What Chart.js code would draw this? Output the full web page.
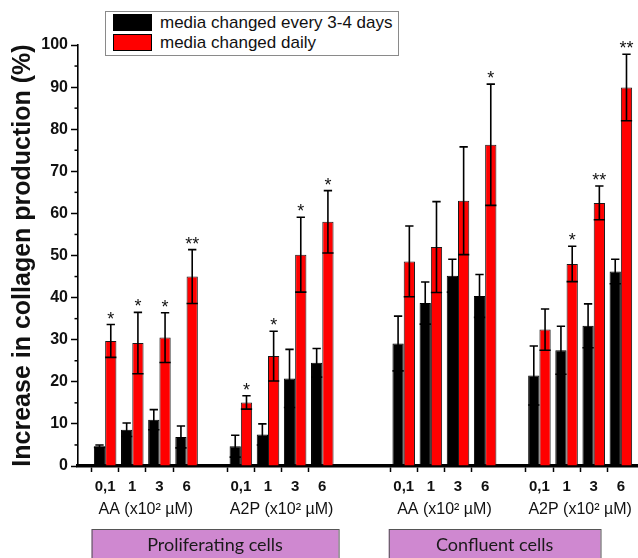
<!DOCTYPE html>
<html>
<head>
<meta charset="utf-8">
<script src="https://cdn.jsdelivr.net/npm/chart.js@4.4.1/dist/chart.umd.min.js"></script>
<style>
  html, body { margin: 0; padding: 0; background: #fff; }
  #clip { position: relative; width: 638px; height: 558px; overflow: hidden; }
  #wrap { position: absolute; left: 0; top: 0; width: 654px; height: 558px; }
  #legend {
    position: absolute; left: 105px; top: 11px; width: 292px; height: 43px;
    border: 1px solid #8a8a8a; background: #fff; font: 17px "Liberation Sans", Arial, sans-serif; color: #111;
  }
  #legend div { position: absolute; left: 7px; height: 20px; line-height: 20px; white-space: nowrap; }
  #legend span { display: inline-block; width: 37px; height: 15px; border: 1px solid #000; vertical-align: -3px; margin-right: 8px; }
</style>
</head>
<body>
<div id="clip">
  <div id="wrap"><canvas id="chart"></canvas></div>
  <div id="legend">
    <div style="top:1px"><span style="background:#000"></span>media changed every 3-4 days</div>
    <div style="top:21px"><span style="background:#ff0000"></span>media changed daily</div>
  </div>
</div>
<script>
// doses per group, group captions, cell states
var doses = ['0,1', '1', '3', '6'];
var groups = ['AA (x10\u00b2 \u00b5M)', 'A2P (x10\u00b2 \u00b5M)', 'AA (x10\u00b2 \u00b5M)', 'A2P (x10\u00b2 \u00b5M)'];
var cellStates = ['Proliferating cells', 'Confluent cells'];

// values (16 = 4 groups x 4 doses)
var every34    = [4.7, 8.6, 11.0, 6.9,   4.7, 7.5, 20.8, 24.5,   29.1, 38.7, 45.2, 40.4,   21.5, 27.5, 33.3, 46.2];
var every34Err = [0.3, 1.6, 2.4, 2.6,    2.6, 2.5, 6.9, 3.4,     6.5, 5.0, 3.9, 5.1,       7.0, 5.7, 5.2, 2.9];
var daily      = [29.7, 29.2, 30.5, 45.0, 15.1, 26.1, 50.2, 58.0, 48.6, 52.0, 63.0, 76.3,  32.4, 48.0, 62.5, 89.9];
var dailyErr   = [3.9, 7.3, 5.9, 6.4,    1.6, 5.9, 8.9, 7.4,     8.4, 10.8, 12.8, 14.4,    4.9, 4.2, 4.0, 7.9];
var stars      = ['*', '*', '*', '**',   '*', '*', '*', '*',     '', '', '', '*',          '', '*', '**', '**'];

var yTicks = [0, 10, 20, 30, 40, 50, 60, 70, 80, 90, 100];

// build category slots: empty slots separate the groups
var gapsBefore = [1, 1, 2, 1];
var labels = [], slot34 = [], slotDaily = [], slotItem = [], groupSlots = [];
groups.forEach(function (g, gi) {
  for (var k = 0; k < gapsBefore[gi]; k++) { labels.push(''); slot34.push(null); slotDaily.push(null); slotItem.push(-1); }
  var first = labels.length;
  doses.forEach(function (d, di) {
    var i = gi * doses.length + di;
    labels.push(d); slot34.push(every34[i]); slotDaily.push(daily[i]); slotItem.push(i);
  });
  groupSlots.push([first, labels.length - 1]);
});
labels.push(''); slot34.push(null); slotDaily.push(null); slotItem.push(-1);

var errors = [every34Err, dailyErr];

var errorBars = {
  id: 'errorBars',
  afterDatasetsDraw: function (chart) {
    var ctx = chart.ctx, y = chart.scales.y;
    ctx.save();
    ctx.strokeStyle = '#000';
    ctx.lineWidth = 1.6;
    chart.data.datasets.forEach(function (ds, di) {
      var meta = chart.getDatasetMeta(di);
      meta.data.forEach(function (bar, si) {
        var item = slotItem[si];
        if (item < 0) return;
        var v = ds.data[si], e = errors[di][item];
        var top = y.getPixelForValue(v + e), bot = y.getPixelForValue(v - e);
        var hw = bar.width * 0.37, bw = bar.width * 0.5;
        ctx.beginPath();
        ctx.moveTo(bar.x, top); ctx.lineTo(bar.x, bot);
        ctx.moveTo(bar.x - hw, top); ctx.lineTo(bar.x + hw, top);
        ctx.moveTo(bar.x - bw, bot); ctx.lineTo(bar.x + bw, bot);
        ctx.stroke();
        if (di === 1 && stars[item]) {
          ctx.fillStyle = '#111';
          ctx.font = '18px "Liberation Sans", Arial, sans-serif';
          ctx.textAlign = 'center';
          ctx.textBaseline = 'alphabetic';
          ctx.fillText(stars[item], bar.x, top + 0);
        }
      });
    });
    ctx.restore();
  }
};

var decorations = {
  id: 'decorations',
  afterDraw: function (chart) {
    var ctx = chart.ctx, x = chart.scales.x, y = chart.scales.y;
    ctx.save();
    // minor ticks on the y axis
    ctx.strokeStyle = '#000';
    ctx.lineWidth = 1.5;
    for (var v = 5; v < 100; v += 10) {
      var py = y.getPixelForValue(v);
      ctx.beginPath(); ctx.moveTo(y.right - 3.5, py); ctx.lineTo(y.right, py); ctx.stroke();
    }
    // group captions
    ctx.fillStyle = '#111';
    ctx.font = '16px "Liberation Sans", Arial, sans-serif';
    ctx.textAlign = 'center';
    ctx.textBaseline = 'middle';
    groupSlots.forEach(function (s, gi) {
      var cx = (x.getPixelForValue(s[0]) + x.getPixelForValue(s[1])) / 2;
      ctx.fillText(groups[gi], cx, 510);
    });
    // cell state boxes
    var step = x.getPixelForValue(1) - x.getPixelForValue(0);
    var spans = [[groupSlots[0][0] - 0.5, groupSlots[1][1] + 0.6], [groupSlots[2][0] - 0.55, groupSlots[3][1] - 0.75]];
    spans.forEach(function (sp, i) {
      var l = x.getPixelForValue(0) + sp[0] * step, r = x.getPixelForValue(0) + sp[1] * step;
      ctx.fillStyle = '#cf88d0';
      ctx.fillRect(l, 529, r - l, 40);
      ctx.strokeStyle = '#555';
      ctx.lineWidth = 1;
      ctx.strokeRect(l + 0.5, 529.5, r - l, 40);
      ctx.fillStyle = '#1a1a1a';
      ctx.font = '18px Lato, "Open Sans", sans-serif';
      ctx.fillText(cellStates[i], (l + r) / 2, 545);
    });
    ctx.restore();
  }
};

new Chart(document.getElementById('chart'), {
  type: 'bar',
  data: {
    labels: labels,
    datasets: [
      { label: 'media changed every 3-4 days', data: slot34, backgroundColor: '#000', borderColor: '#000', borderWidth: 1 },
      { label: 'media changed daily', data: slotDaily, backgroundColor: '#ff0000', borderColor: '#1a1a1a', borderWidth: 1 }
    ]
  },
  options: {
    responsive: true,
    maintainAspectRatio: false,
    animation: false,
    devicePixelRatio: 1,
    layout: { padding: { top: 45, left: 0, right: 0, bottom: 0 } },
    categoryPercentage: 0.83,
    barPercentage: 1,
    plugins: { legend: { display: false }, tooltip: { enabled: false } },
    scales: {
      x: {
        offset: false,
        grid: {
          drawOnChartArea: false, tickLength: 6, tickWidth: 1.5,
          tickColor: function (c) { return labels[c.index] ? '#000' : 'rgba(0,0,0,0)'; }
        },
        border: { color: '#000', width: 3.5 },
        ticks: { autoSkip: false, maxRotation: 0, padding: 6, color: '#111', font: { family: '"Liberation Sans", Arial', size: 15, weight: 'bold' } },
        afterFit: function (s) { s.height = 92; }
      },
      y: {
        min: 0, max: 100,
        afterBuildTicks: function (s) { s.ticks = yTicks.map(function (v) { return { value: v }; }); },
        grid: { drawOnChartArea: false, tickLength: 7, tickWidth: 1.5, tickColor: '#000' },
        border: { color: '#000', width: 1.6 },
        ticks: { padding: 3, color: '#111', font: { family: '"Liberation Sans", Arial', size: 16, weight: 'bold' } },
        title: { display: true, text: 'Increase in collagen production (%)', color: '#111', padding: { top: 8, bottom: 0 },
                 font: { family: '"Liberation Sans", Arial', size: 25, weight: 'bold' } },
        afterFit: function (s) { s.width = 78; }
      }
    }
  },
  plugins: [errorBars, decorations]
});
</script>
</body>
</html>
